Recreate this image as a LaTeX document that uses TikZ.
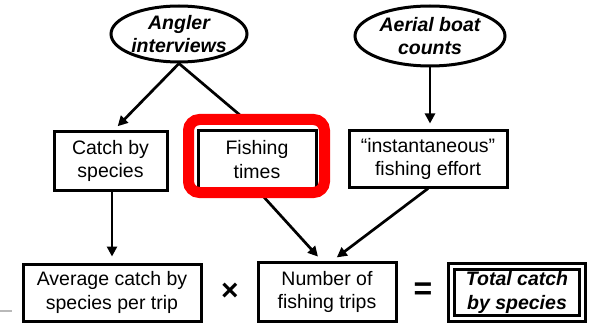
\documentclass[tikz,border=0pt]{standalone}
\usepackage{fontspec}
\setmainfont{Liberation Sans}
\usetikzlibrary{shapes.geometric,arrows.meta}
\begin{document}
\begin{tikzpicture}[x=1pt,y=-1pt,
  txt/.style={font=\fontsize{19.5}{23.5}\selectfont, align=center, inner sep=0pt},
  oval/.style={txt, ellipse, draw, line width=3pt, font=\fontsize{19.5}{23.5}\selectfont\bfseries\itshape},
  box/.style={txt, rectangle, draw, line width=3pt},
  arr/.style={line width=2.7pt, -{Triangle[length=10pt,width=10pt]}, shorten >=6pt},
  plainln/.style={line width=2.7pt}]
\useasboundingbox (0,0) rectangle (594,326);
% slide artifact
\draw[gray!55, line width=2pt] (0,311) -- (12,311);
% nodes
\node[oval, minimum width=136pt, minimum height=56pt] (angler) at (179,34) {Angler\\interviews};
\node[oval, minimum width=150pt, minimum height=60pt] (aerial) at (430,36) {Aerial boat\\counts};
\node[box, minimum width=113pt, minimum height=58pt] (catch) at (110.5,161) {Catch by\\species};
\node[box, minimum width=118pt, minimum height=57pt] (fishing) at (257,159.5) {Fishing\\times};
\node[box, minimum width=158pt, minimum height=56pt] (inst) at (428,159) {``instantaneous''\\fishing effort};
\node[box, minimum width=178pt, minimum height=57pt] (avg) at (112,292.5) {Average catch by\\species per trip};
\node[box, minimum width=138pt, minimum height=59pt] (num) at (327,292) {Number of\\fishing trips};
\node[box, double, double distance=3pt, line width=2.6pt, minimum width=131pt, minimum height=52pt,
      font=\fontsize{19.5}{23.5}\selectfont\bfseries\itshape] (total) at (517,292.5) {Total catch\\by species};
\node[txt, font=\fontsize{30}{30}\selectfont\bfseries] (times) at (230,292) {×};
\node[txt, font=\fontsize{32}{32}\selectfont\bfseries] (eq) at (423,291) {=};
% connectors
\draw[arr] (angler.south) -- ([xshift=3pt]catch.north);
\draw[plainln, shorten >=20pt] (angler.south) -- (fishing.north);
\draw[arr] (aerial.south) -- (aerial.south |- inst.north);
\draw[arr] (avg.north |- catch.south) -- (avg.north);
\draw[arr] (fishing.south) -- ([xshift=-5pt]num.north);
\draw[arr] (inst.south) -- ([xshift=5pt]num.north);
% highlight
\node[draw=red, line width=11pt, rounded corners=11pt, minimum width=136pt, minimum height=73pt, inner sep=0pt] (hl) at (256.5,156) {};
\end{tikzpicture}
\end{document}
